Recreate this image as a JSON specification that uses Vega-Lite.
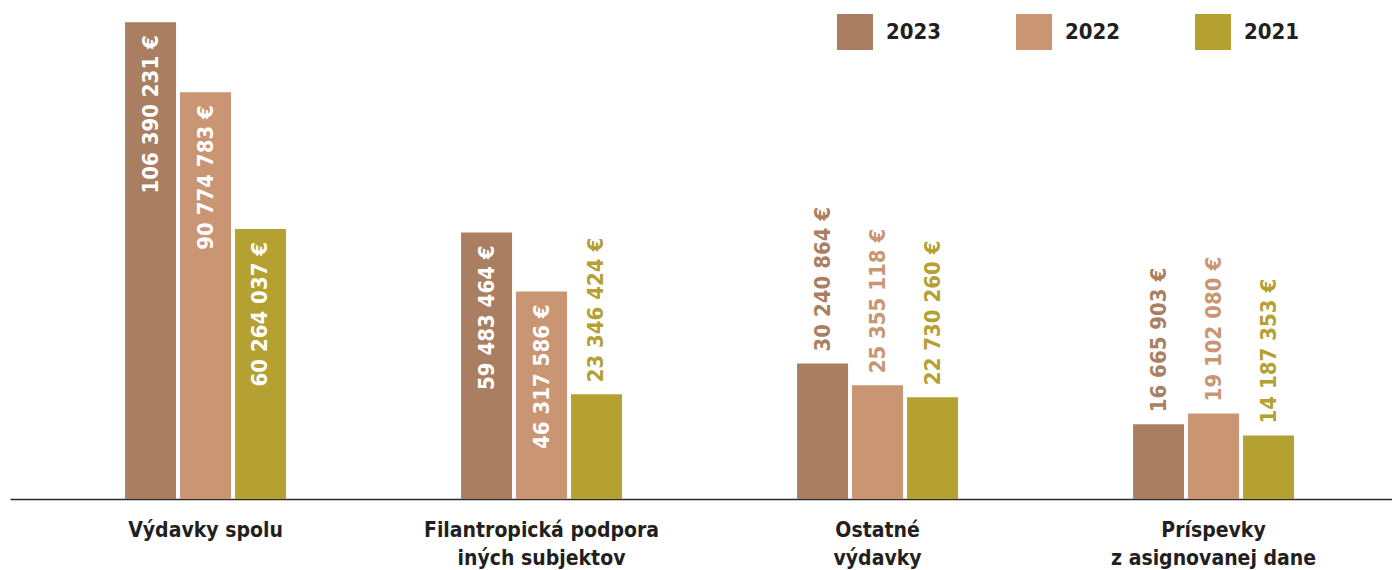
{
  "$schema": "https://vega.github.io/schema/vega-lite/v6.json",
  "width": 1382,
  "height": 493,
  "autosize": {"type": "none"},
  "padding": {"left": 10, "top": 6, "right": 0, "bottom": 71},
  "background": "white",
  "config": {
    "view": {"stroke": null},
    "font": "DejaVu Sans Condensed, Liberation Sans, sans-serif"
  },
  "data": {
    "values": [
      {"kategoria": "Výdavky spolu", "rok": "2023", "hodnota": 106390231},
      {"kategoria": "Výdavky spolu", "rok": "2022", "hodnota": 90774783},
      {"kategoria": "Výdavky spolu", "rok": "2021", "hodnota": 60264037},
      {"kategoria": "Filantropická podpora|iných subjektov", "rok": "2023", "hodnota": 59483464},
      {"kategoria": "Filantropická podpora|iných subjektov", "rok": "2022", "hodnota": 46317586},
      {"kategoria": "Filantropická podpora|iných subjektov", "rok": "2021", "hodnota": 23346424},
      {"kategoria": "Ostatné|výdavky", "rok": "2023", "hodnota": 30240864},
      {"kategoria": "Ostatné|výdavky", "rok": "2022", "hodnota": 25355118},
      {"kategoria": "Ostatné|výdavky", "rok": "2021", "hodnota": 22730260},
      {"kategoria": "Príspevky|z asignovanej dane", "rok": "2023", "hodnota": 16665903},
      {"kategoria": "Príspevky|z asignovanej dane", "rok": "2022", "hodnota": 19102080},
      {"kategoria": "Príspevky|z asignovanej dane", "rok": "2021", "hodnota": 14187353}
    ]
  },
  "transform": [
    {"calculate": "replace(format(datum.hodnota, ','), regexp(',', 'g'), ' ') + ' €'", "as": "popis"}
  ],
  "encoding": {
    "x": {
      "field": "kategoria",
      "type": "nominal",
      "sort": null,
      "scale": {"paddingInner": 0.521, "paddingOuter": 0.317, "align": 0.54},
      "axis": {
        "title": null,
        "labelAngle": 0,
        "ticks": false,
        "tickSize": 0,
        "labelPadding": 20,
        "labelLimit": 500,
        "labelExpr": "split(datum.value, '|')",
        "labelFont": "DejaVu Sans Condensed, Liberation Sans, sans-serif",
        "labelFontSize": 21,
        "labelFontWeight": "bold",
        "labelColor": "#231f20",
        "labelLineHeight": 28,
        "domainColor": "#2b2b2b",
        "domainWidth": 1.5,
        "grid": false
      }
    },
    "xOffset": {
      "field": "rok",
      "type": "nominal",
      "sort": ["2023", "2022", "2021"],
      "scale": {"paddingInner": 0.0727, "paddingOuter": 0}
    },
    "y": {
      "field": "hodnota",
      "type": "quantitative",
      "scale": {"domain": [0, 110000000], "nice": false},
      "axis": null
    }
  },
  "layer": [
    {
      "mark": {"type": "bar"},
      "encoding": {
        "color": {
          "field": "rok",
          "type": "nominal",
          "sort": ["2023", "2022", "2021"],
          "scale": {"domain": ["2023", "2022", "2021"], "range": ["#aa7f61", "#c99573", "#b5a032"]},
          "legend": {
            "title": null,
            "orient": "none",
            "legendX": 827,
            "legendY": 8,
            "direction": "horizontal",
            "symbolType": "square",
            "symbolSize": 1296,
            "symbolStrokeWidth": 0,
            "symbolOpacity": 1,
            "labelFont": "DejaVu Sans Condensed, Liberation Sans, sans-serif",
            "labelFontSize": 22,
            "labelFontWeight": "bold",
            "labelColor": "#231f20",
            "labelOffset": 13,
            "labelLimit": 200,
            "columnPadding": 74
          }
        }
      }
    },
    {
      "transform": [{"filter": "datum.hodnota >= 40000000"}],
      "mark": {
        "type": "text",
        "angle": 270,
        "align": "right",
        "baseline": "middle",
        "dx": -13,
        "fontSize": 22,
        "fontWeight": "bold",
        "font": "DejaVu Sans Condensed, Liberation Sans, sans-serif",
        "color": "white"
      },
      "encoding": {"text": {"field": "popis"}}
    },
    {
      "transform": [{"filter": "datum.hodnota < 40000000"}],
      "mark": {
        "type": "text",
        "angle": 270,
        "align": "left",
        "baseline": "middle",
        "dx": 12,
        "fontSize": 22,
        "fontWeight": "bold",
        "font": "DejaVu Sans Condensed, Liberation Sans, sans-serif"
      },
      "encoding": {
        "text": {"field": "popis"},
        "color": {"field": "rok", "type": "nominal", "legend": null}
      }
    }
  ]
}
